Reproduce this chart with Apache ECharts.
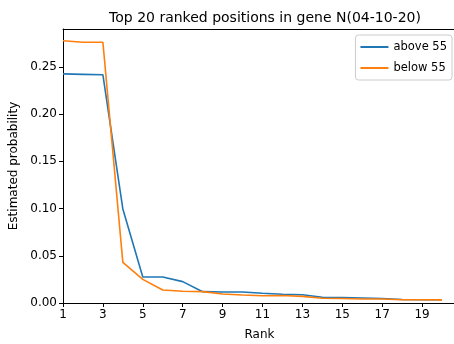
<!DOCTYPE html>
<html>
<head>
<meta charset="utf-8">
<script src="https://cdn.jsdelivr.net/npm/echarts@6/dist/echarts.min.js"></script>
<style>
  html, body { margin: 0; padding: 0; background: #fff; }
  #chart { width: 454px; height: 344px; }
</style>
</head>
<body>
<div id="chart"></div>
<script>
// ranks 1..20
const ranks = [1, 2, 3, 4, 5, 6, 7, 8, 9, 10, 11, 12, 13, 14, 15, 16, 17, 18, 19, 20]
const above55 = [0.2425, 0.242, 0.2415, 0.0995, 0.0275, 0.0275, 0.0226, 0.012, 0.0117, 0.0117,
  0.0103, 0.0092, 0.0088, 0.006, 0.0058, 0.0053, 0.0048, 0.0037, 0.0035, 0.0035]
const below55 = [0.2775, 0.276, 0.276, 0.043, 0.025, 0.0138, 0.0124, 0.012, 0.0095, 0.0085,
  0.0077, 0.008, 0.007, 0.005, 0.0048, 0.0042, 0.0042, 0.0035, 0.0035, 0.0033]
const xTicks = [1, 3, 5, 7, 9, 11, 13, 15, 17, 19]
const yTicks = [0, 0.05, 0.1, 0.15, 0.2, 0.25]

const font = 'DejaVu Sans'
const chart = echarts.init(document.getElementById('chart'), null, { renderer: 'canvas' })

const pair = (vals) => ranks.map((r, i) => [r, vals[i]])

chart.setOption({
  animation: false,
  textStyle: { fontFamily: font },
  title: {
    text: 'Top 20 ranked positions in gene N(04-10-20)',
    left: 260,
    textAlign: 'center',
    top: 6,
    textStyle: { fontFamily: font, fontSize: 14, fontWeight: 'normal', color: '#000' },
  },
  legend: {
    right: 2,
    top: 35,
    orient: 'vertical',
    itemWidth: 28,
    itemHeight: 2,
    itemGap: 9,
    padding: [6, 5, 6, 5],
    borderColor: '#ccc',
    borderWidth: 1,
    borderRadius: 3,
    icon: 'rect',
    textStyle: { fontFamily: font, fontSize: 11.5, color: '#000' },
    data: ['above 55', 'below 55'],
  },
  grid: { left: 63, right: -2, top: 29, bottom: 41, containLabel: false, outerBoundsMode: 'none' },
  xAxis: [
    {
      type: 'value',
      min: 1,
      max: 20.7,
      name: 'Rank',
      nameLocation: 'middle',
      nameGap: 26,
      nameTextStyle: { fontFamily: font, fontSize: 12, color: '#000' },
      splitLine: { show: false },
      axisLine: { lineStyle: { color: '#000', width: 1 } },
      axisTick: { length: 4, customValues: xTicks, lineStyle: { color: '#000' } },
      axisLabel: { customValues: xTicks, fontSize: 12, color: '#000', margin: 6, fontFamily: font },
    },
    {
      type: 'value',
      position: 'top',
      min: 1,
      max: 20.7,
      splitLine: { show: false },
      axisLine: { lineStyle: { color: '#000', width: 1 } },
      axisTick: { show: false },
      axisLabel: { show: false },
    },
  ],
  yAxis: {
    type: 'value',
    min: 0,
    max: 0.29,
    name: 'Estimated probability',
    nameLocation: 'middle',
    nameGap: 40,
    nameTextStyle: { fontFamily: font, fontSize: 12, color: '#000' },
    splitLine: { show: false },
    axisLine: { show: true, lineStyle: { color: '#000', width: 1 } },
    axisTick: { show: true, length: 4, customValues: yTicks, lineStyle: { color: '#000' } },
    axisLabel: {
      customValues: yTicks,
      fontSize: 12,
      color: '#000',
      margin: 6,
      fontFamily: font,
      formatter: (v) => v.toFixed(2),
    },
  },
  series: [
    {
      name: 'above 55',
      type: 'line',
      data: pair(above55),
      showSymbol: false,
      symbol: 'none',
      color: '#1f77b4',
      lineStyle: { width: 1.6 },
    },
    {
      name: 'below 55',
      type: 'line',
      data: pair(below55),
      showSymbol: false,
      symbol: 'none',
      color: '#ff7f0e',
      lineStyle: { width: 1.6 },
    },
  ],
})
</script>
</body>
</html>
